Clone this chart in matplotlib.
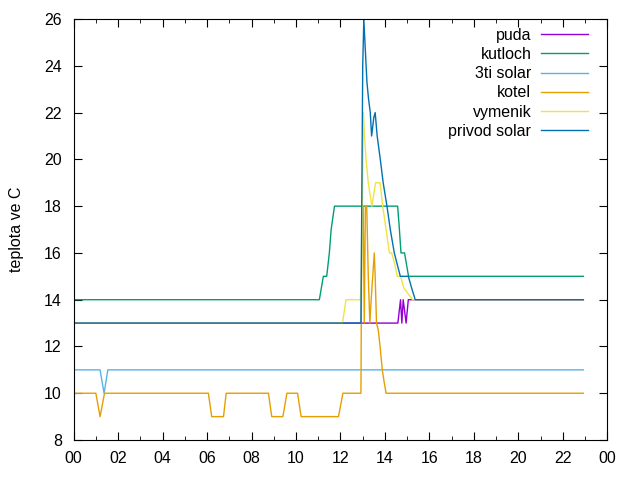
import matplotlib
matplotlib.use('Agg')
import matplotlib.pyplot as plt
from matplotlib.ticker import MultipleLocator, FuncFormatter

plt.rcParams['font.family'] = ['Liberation Sans', 'DejaVu Sans']

# cas v hodinach, teplota ve C
puda_t = [0, 14.58, 14.70, 14.76, 14.82, 14.95, 15.05, 22.92]
puda_v = [13, 13, 14, 13, 14, 13, 14, 14]

kutloch_t = [0, 11.05, 11.23, 11.38, 11.50, 11.58, 11.73, 14.57, 14.65, 14.72, 14.88, 15.06, 22.92]
kutloch_v = [14, 14, 15, 15, 16, 17, 18, 18, 17, 16, 16, 15, 15]

solar3_t = [0, 1.19, 1.37, 1.54, 22.92]
solar3_v = [11, 11, 10, 11, 11]

kotel_t = [0, 1.00, 1.19, 1.39, 6.06, 6.21, 6.74, 6.86, 8.76, 8.91, 9.41, 9.59,
           10.07, 10.23, 11.91, 12.11, 12.92, 12.96, 13.02, 13.07, 13.12, 13.18,
           13.25, 13.32, 13.38, 13.45, 13.52, 13.56, 13.62, 13.70, 13.78, 13.88,
           13.96, 14.05, 22.92]
kotel_v = [10, 10, 9, 10, 10, 9, 9, 10, 10, 9, 9, 10,
           10, 9, 9, 10, 10, 18, 18, 13, 18, 18,
           15, 13, 14, 15, 16, 15, 13, 12.7, 12, 11,
           10.5, 10, 10]

vymenik_t = [0, 12.09, 12.25, 12.89, 12.95, 13.03, 13.08, 13.15, 13.25, 13.41, 13.58,
             13.78, 13.90, 14.05, 14.20, 14.30, 14.45, 14.55, 14.70, 14.85, 15.24, 22.92]
vymenik_v = [13, 13, 14, 14, 15, 22, 21, 20, 19, 18, 19,
             19, 18, 17, 16, 16, 15.5, 15, 15, 14.5, 14, 14]

privod_t = [0, 12.92, 13.00, 13.05, 13.10, 13.19, 13.26, 13.34, 13.40, 13.50, 13.56,
            13.65, 13.79, 13.92, 14.09, 14.24, 14.42, 14.69, 15.05, 15.20, 15.36, 22.92]
privod_v = [13, 13, 24, 26, 25, 23.3, 22.6, 22, 21, 21.8, 22,
            21, 20, 19, 18, 17, 16, 15, 15, 14.5, 14, 14]

series = [
    ('puda', puda_t, puda_v, '#9400d3'),
    ('kutloch', kutloch_t, kutloch_v, '#009e73'),
    ('3ti solar', solar3_t, solar3_v, '#56b4e9'),
    ('kotel', kotel_t, kotel_v, '#e69f00'),
    ('vymenik', vymenik_t, vymenik_v, '#f0e442'),
    ('privod solar', privod_t, privod_v, '#0072b2'),
]

fig = plt.figure(figsize=(6.4, 4.8), dpi=100)
ax = fig.add_axes([0.115, 0.0833, 0.834, 0.877])

for name, t, v, c in series:
    ax.plot(t, v, color=c, lw=1.0, label=name)

ax.set_xlim(0, 24)
ax.set_ylim(8, 26)
ax.xaxis.set_major_locator(MultipleLocator(2))
ax.xaxis.set_minor_locator(MultipleLocator(1))
ax.yaxis.set_major_locator(MultipleLocator(2))
ax.xaxis.set_major_formatter(FuncFormatter(lambda x, p: '%02d' % (int(round(x)) % 24)))
ax.tick_params(which='both', direction='in', top=True, right=True, labelsize=11.5)
ax.tick_params(axis='y', pad=8.5)
ax.tick_params(axis='x', pad=8)
ax.tick_params(which='major', length=6)
ax.tick_params(which='minor', length=3)
ax.set_ylabel('teplota ve C', fontsize=11.5, labelpad=14)

ax.legend(loc='upper right', bbox_to_anchor=(0.9644, 0.979), frameon=False,
          markerfirst=False, fontsize=11.5, handlelength=2.94, labelspacing=0.26,
          borderaxespad=0, borderpad=0, handletextpad=0.63)

fig.savefig('out.png', dpi=100)
